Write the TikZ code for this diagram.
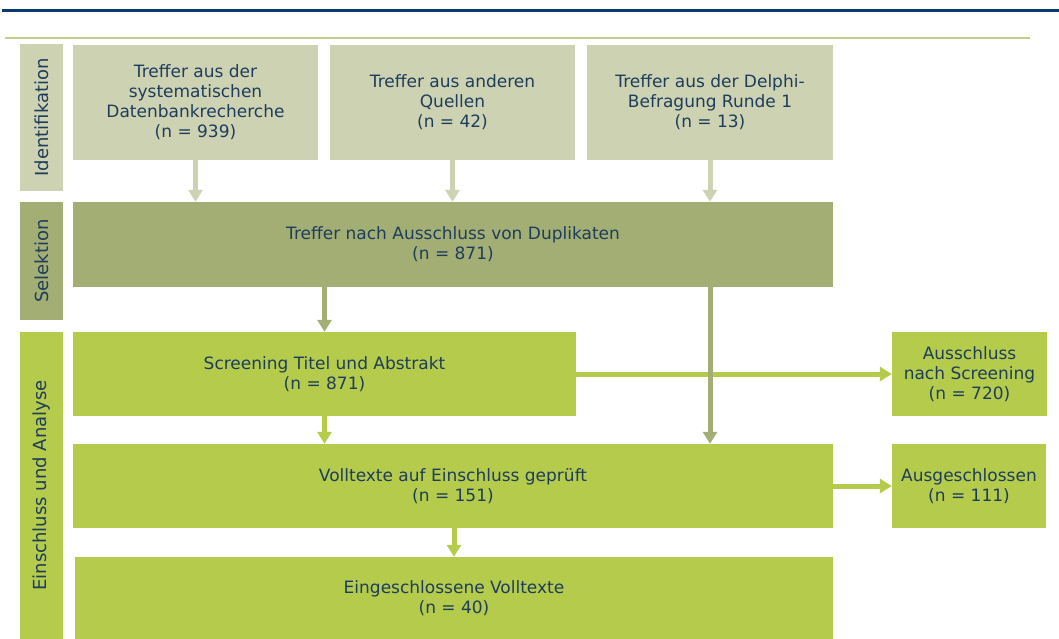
\documentclass[tikz,border=0pt]{standalone}
\usepackage{fontspec}
\setmainfont{DejaVu Sans}
\usetikzlibrary{arrows.meta}
\definecolor{topc}{RGB}{205,211,178}
\definecolor{selc}{RGB}{162,174,116}
\definecolor{grnc}{RGB}{180,203,76}
\definecolor{bluel}{RGB}{10,58,110}
\definecolor{linec}{RGB}{196,204,140}
\definecolor{txtc}{RGB}{30,61,92}
\tikzset{
  box/.style={rectangle, inner sep=0pt, align=center, text=txtc,
    font=\fontsize{17}{20}\selectfont},
  side/.style={box, rotate=90, font=\fontsize{18}{20}\selectfont},
  arr/.style={line width=5pt, -{Triangle[width=14pt,length=12pt]}},
}
\begin{document}
\begin{tikzpicture}[x=1pt,y=-1pt]
\useasboundingbox (0,0) rectangle (1059,639);
\fill[white] (0,0) rectangle (1059,639);
\coordinate (bl1) at (2,11); \coordinate (bl2) at (1059,11);
\draw[bluel, line width=3pt] (bl1) -- (bl2);
\coordinate (gl1) at (5,38); \coordinate (gl2) at (1030,38);
\draw[linec, line width=2pt] (gl1) -- (gl2);

% side labels
\node[side, fill=topc, minimum width=146pt, minimum height=43pt] (s1) at (41.5,117.5) {Identifikation};
\node[side, fill=selc, minimum width=118pt, minimum height=43pt] (s2) at (41.5,261) {Selektion};
\node[side, fill=grnc, minimum width=307pt, minimum height=43pt] (s3) at (41.5,485.5) {Einschluss und Analyse};

% top row
\node[box, fill=topc, minimum width=245pt, minimum height=115pt] (b1) at (195.5,102.5) {Treffer aus der\\systematischen\\Datenbankrecherche\\(n = 939)};
\node[box, fill=topc, minimum width=245pt, minimum height=115pt] (b2) at (452.5,102.5) {Treffer aus anderen\\Quellen\\(n = 42)};
\node[box, fill=topc, minimum width=246pt, minimum height=115pt] (b3) at (710,102.5) {Treffer aus der Delphi-\\Befragung Runde 1\\(n = 13)};

\node[box, fill=selc, minimum width=760pt, minimum height=85pt] (sel) at (453,244.5) {Treffer nach Ausschluss von Duplikaten\\(n = 871)};

\node[box, fill=grnc, minimum width=503pt, minimum height=84pt] (scr) at (324.5,374) {Screening Titel und Abstrakt\\(n = 871)};
\node[box, fill=grnc, minimum width=760pt, minimum height=84pt] (voll) at (453,486) {Volltexte auf Einschluss geprüft\\(n = 151)};
\node[box, fill=grnc, minimum width=758pt, minimum height=82pt] (eing) at (454,598) {Eingeschlossene Volltexte\\(n = 40)};

\node[box, fill=grnc, minimum width=155pt, minimum height=84pt] (a1) at (969.5,374) {Ausschluss\\nach Screening\\(n = 720)};
\node[box, fill=grnc, minimum width=154pt, minimum height=84pt] (a2) at (969,486) {Ausgeschlossen\\(n = 111)};

% arrows
\draw[arr, topc] (b1.south) -- (b1.south |- sel.north);
\draw[arr, topc] (b2.south) -- (b2.south |- sel.north);
\draw[arr, topc] (b3.south) -- (b3.south |- sel.north);
\draw[arr, grnc] (scr.east) -- (a1.west);
\draw[arr, grnc] (voll.east) -- (a2.west);
\draw[arr, selc] (sel.south -| scr.north) -- (scr.north);
\draw[arr, selc] (sel.south -| b3.south) -- (voll.north -| b3.south);
\draw[arr, grnc] (scr.south) -- (voll.north -| scr.south);
\draw[arr, grnc] (voll.south -| eing.north) -- (eing.north);
\end{tikzpicture}
\end{document}
